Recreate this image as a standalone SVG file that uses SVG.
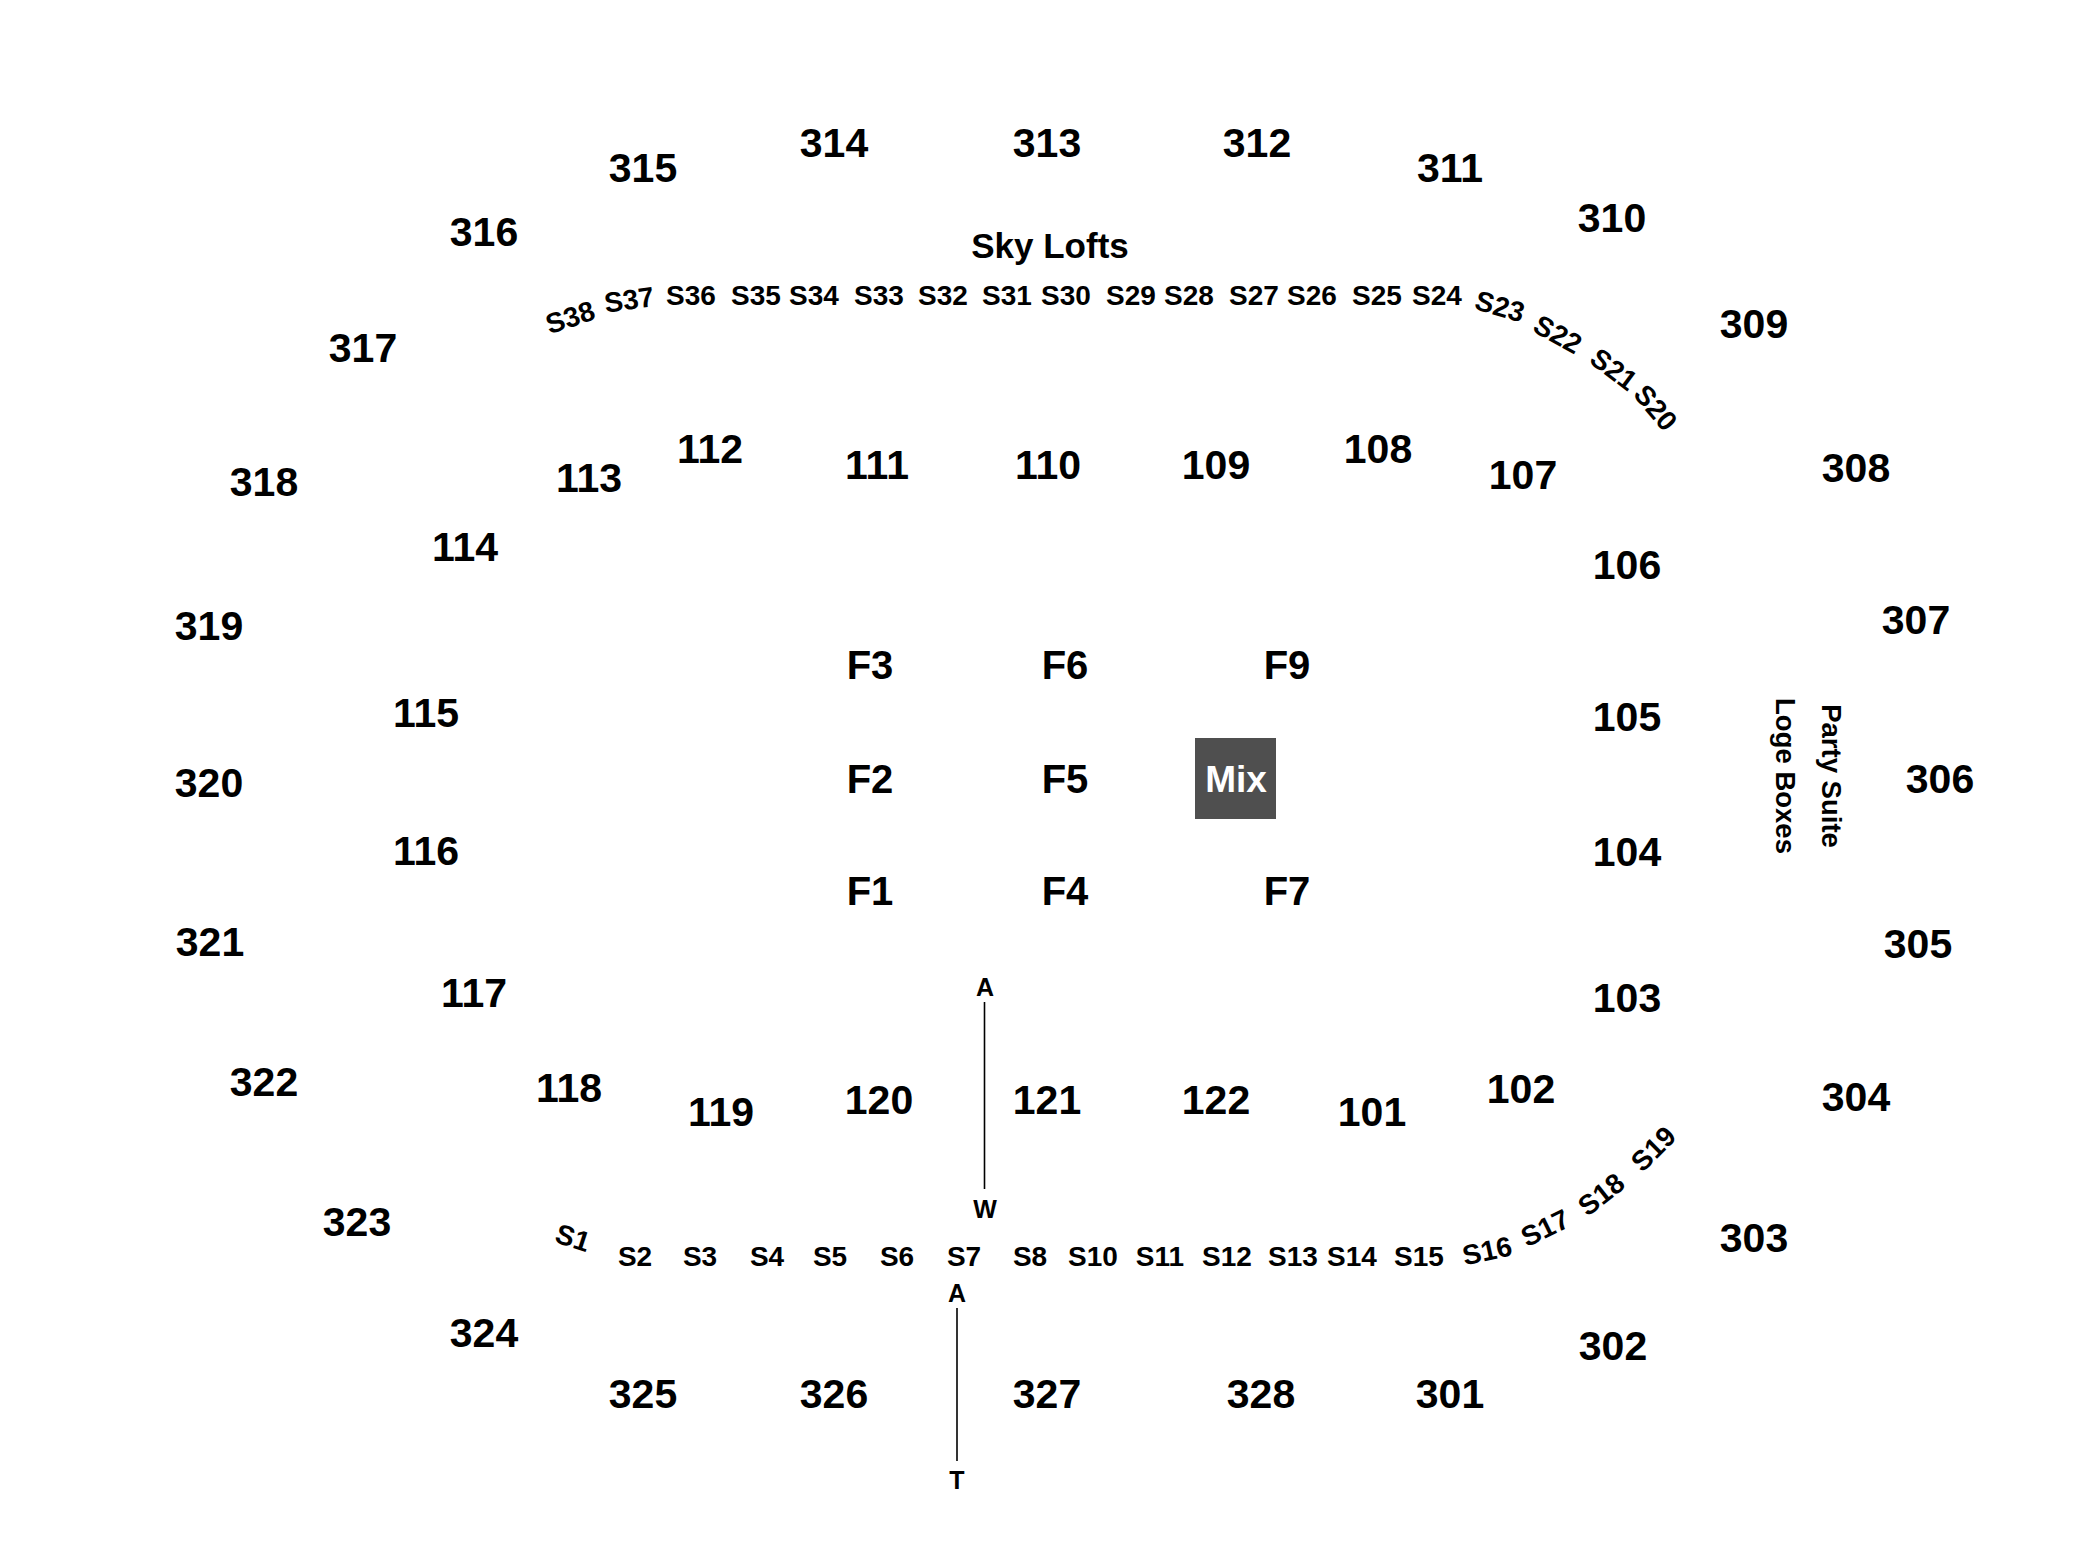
<svg xmlns="http://www.w3.org/2000/svg" width="2100" height="1564" viewBox="0 0 2100 1564">
<style>
text{font-family:"Liberation Sans",Arial,sans-serif;font-weight:bold;fill:#000;text-anchor:middle}
.sec{font-size:41px}
.f{font-size:40px}
.s{font-size:28px}
.t{font-size:25px}
.lbl{font-size:35px}
.v{font-size:27.5px}
.mix{font-size:37px;fill:#fff}
.ln{stroke:#000;stroke-width:1.6;fill:none}
</style>
<rect width="2100" height="1564" fill="#fff"/>
<g id="upper-sections">
<g id="s315"><text class="sec" x="643" y="182">315</text></g>
<g id="s314"><text class="sec" x="834" y="157">314</text></g>
<g id="s313"><text class="sec" x="1047" y="157">313</text></g>
<g id="s312"><text class="sec" x="1257" y="157">312</text></g>
<g id="s311"><text class="sec" x="1450" y="182">311</text></g>
<g id="s310"><text class="sec" x="1612" y="232">310</text></g>
<g id="s309"><text class="sec" x="1754" y="338">309</text></g>
<g id="s308"><text class="sec" x="1856" y="482">308</text></g>
<g id="s307"><text class="sec" x="1916" y="634">307</text></g>
<g id="s306"><text class="sec" x="1940" y="793">306</text></g>
<g id="s305"><text class="sec" x="1918" y="958">305</text></g>
<g id="s304"><text class="sec" x="1856" y="1111">304</text></g>
<g id="s303"><text class="sec" x="1754" y="1252">303</text></g>
<g id="s302"><text class="sec" x="1613" y="1360">302</text></g>
<g id="s301"><text class="sec" x="1450" y="1408">301</text></g>
<g id="s328"><text class="sec" x="1261" y="1408">328</text></g>
<g id="s327"><text class="sec" x="1047" y="1408">327</text></g>
<g id="s326"><text class="sec" x="834" y="1408">326</text></g>
<g id="s325"><text class="sec" x="643" y="1408">325</text></g>
<g id="s324"><text class="sec" x="484" y="1347">324</text></g>
<g id="s323"><text class="sec" x="357" y="1236">323</text></g>
<g id="s322"><text class="sec" x="264" y="1096">322</text></g>
<g id="s321"><text class="sec" x="210" y="956">321</text></g>
<g id="s320"><text class="sec" x="209" y="797">320</text></g>
<g id="s319"><text class="sec" x="209" y="640">319</text></g>
<g id="s318"><text class="sec" x="264" y="496">318</text></g>
<g id="s317"><text class="sec" x="363" y="362">317</text></g>
<g id="s316"><text class="sec" x="484" y="246">316</text></g>
</g>
<g id="lower-sections">
<g id="s112"><text class="sec" x="710" y="463">112</text></g>
<g id="s113"><text class="sec" x="589" y="492">113</text></g>
<g id="s114"><text class="sec" x="465" y="561">114</text></g>
<g id="s115"><text class="sec" x="426" y="727">115</text></g>
<g id="s116"><text class="sec" x="426" y="865">116</text></g>
<g id="s117"><text class="sec" x="474" y="1007">117</text></g>
<g id="s118"><text class="sec" x="569" y="1102">118</text></g>
<g id="s119"><text class="sec" x="721" y="1126">119</text></g>
<g id="s120"><text class="sec" x="879" y="1114">120</text></g>
<g id="s121"><text class="sec" x="1047" y="1114">121</text></g>
<g id="s122"><text class="sec" x="1216" y="1114">122</text></g>
<g id="s101"><text class="sec" x="1372" y="1126">101</text></g>
<g id="s102"><text class="sec" x="1521" y="1103">102</text></g>
<g id="s103"><text class="sec" x="1627" y="1012">103</text></g>
<g id="s104"><text class="sec" x="1627" y="866">104</text></g>
<g id="s105"><text class="sec" x="1627" y="731">105</text></g>
<g id="s106"><text class="sec" x="1627" y="579">106</text></g>
<g id="s107"><text class="sec" x="1523" y="489">107</text></g>
<g id="s108"><text class="sec" x="1378" y="463">108</text></g>
<g id="s109"><text class="sec" x="1216" y="479">109</text></g>
<g id="s110"><text class="sec" x="1048" y="479">110</text></g>
<g id="s111"><text class="sec" x="877" y="479">111</text></g>
</g>
<g id="floor">
<g id="F3"><text class="f" x="870" y="679">F3</text></g>
<g id="F6"><text class="f" x="1065" y="679">F6</text></g>
<g id="F9"><text class="f" x="1287" y="679">F9</text></g>
<g id="F2"><text class="f" x="870" y="793">F2</text></g>
<g id="F5"><text class="f" x="1065" y="793">F5</text></g>
<g id="F1"><text class="f" x="870" y="905">F1</text></g>
<g id="F4"><text class="f" x="1065" y="905">F4</text></g>
<g id="F7"><text class="f" x="1287" y="905">F7</text></g>
<g id="mix"><rect x="1195" y="738" width="81" height="81" fill="#4f4f4f"/><text class="mix" x="1236" y="792">Mix</text></g>
</g>
<g id="skylofts-label"><text class="lbl" x="1050" y="258">Sky Lofts</text></g>
<g id="skylofts-top">
<g id="S38"><text class="s" transform="translate(570 317) rotate(-18)" y="10">S38</text></g>
<g id="S37"><text class="s" transform="translate(629 299.5) rotate(-8)" y="10">S37</text></g>
<g id="S36"><text class="s" x="691" y="305">S36</text></g>
<g id="S35"><text class="s" x="756" y="305">S35</text></g>
<g id="S34"><text class="s" x="814" y="305">S34</text></g>
<g id="S33"><text class="s" x="879" y="305">S33</text></g>
<g id="S32"><text class="s" x="943" y="305">S32</text></g>
<g id="S31"><text class="s" x="1007" y="305">S31</text></g>
<g id="S30"><text class="s" x="1066" y="305">S30</text></g>
<g id="S29"><text class="s" x="1131" y="305">S29</text></g>
<g id="S28"><text class="s" x="1189" y="305">S28</text></g>
<g id="S27"><text class="s" x="1254" y="305">S27</text></g>
<g id="S26"><text class="s" x="1312" y="305">S26</text></g>
<g id="S25"><text class="s" x="1377" y="305">S25</text></g>
<g id="S24"><text class="s" x="1437" y="305">S24</text></g>
<g id="S23"><text class="s" transform="translate(1500 306) rotate(16)" y="10">S23</text></g>
<g id="S22"><text class="s" transform="translate(1558 334) rotate(29)" y="10">S22</text></g>
<g id="S21"><text class="s" transform="translate(1614 369) rotate(37)" y="10">S21</text></g>
<g id="S20"><text class="s" transform="translate(1656 407.5) rotate(50)" y="10">S20</text></g>
</g>
<g id="skylofts-bottom">
<g id="S1"><text class="s" transform="translate(573 1237.5) rotate(18)" y="10">S1</text></g>
<g id="S2"><text class="s" x="635" y="1266">S2</text></g>
<g id="S3"><text class="s" x="700" y="1266">S3</text></g>
<g id="S4"><text class="s" x="767" y="1266">S4</text></g>
<g id="S5"><text class="s" x="830" y="1266">S5</text></g>
<g id="S6"><text class="s" x="897" y="1266">S6</text></g>
<g id="S7"><text class="s" x="964" y="1266">S7</text></g>
<g id="S8"><text class="s" x="1030" y="1266">S8</text></g>
<g id="S10"><text class="s" x="1093" y="1266">S10</text></g>
<g id="S11"><text class="s" x="1160" y="1266">S11</text></g>
<g id="S12"><text class="s" x="1227" y="1266">S12</text></g>
<g id="S13"><text class="s" x="1293" y="1266">S13</text></g>
<g id="S14"><text class="s" x="1352" y="1266">S14</text></g>
<g id="S15"><text class="s" x="1419" y="1266">S15</text></g>
<g id="S16"><text class="s" transform="translate(1487 1250.5) rotate(-12)" y="10">S16</text></g>
<g id="S17"><text class="s" transform="translate(1545 1227.5) rotate(-26)" y="10">S17</text></g>
<g id="S18"><text class="s" transform="translate(1601 1194) rotate(-38)" y="10">S18</text></g>
<g id="S19"><text class="s" transform="translate(1653 1148.5) rotate(-45)" y="10">S19</text></g>
</g>
<g id="suites">
<g id="loge-boxes"><text class="v" transform="translate(1776 776) rotate(90)">Loge Boxes</text></g>
<g id="party-suite"><text class="v" transform="translate(1822 776) rotate(90)">Party Suite</text></g>
</g>
<g id="aisle-labels">
<g id="A1"><text class="t" x="985" y="996">A</text></g>
<g id="W"><text class="t" x="985" y="1218">W</text></g>
<g id="A2"><text class="t" x="957" y="1302">A</text></g>
<g id="T"><text class="t" x="957" y="1489">T</text></g>
</g>
<g id="connectors">
<line class="ln" x1="984.5" y1="1002" x2="984.5" y2="1189"/>
<line class="ln" x1="957" y1="1308" x2="957" y2="1461"/>
</g>
</svg>
